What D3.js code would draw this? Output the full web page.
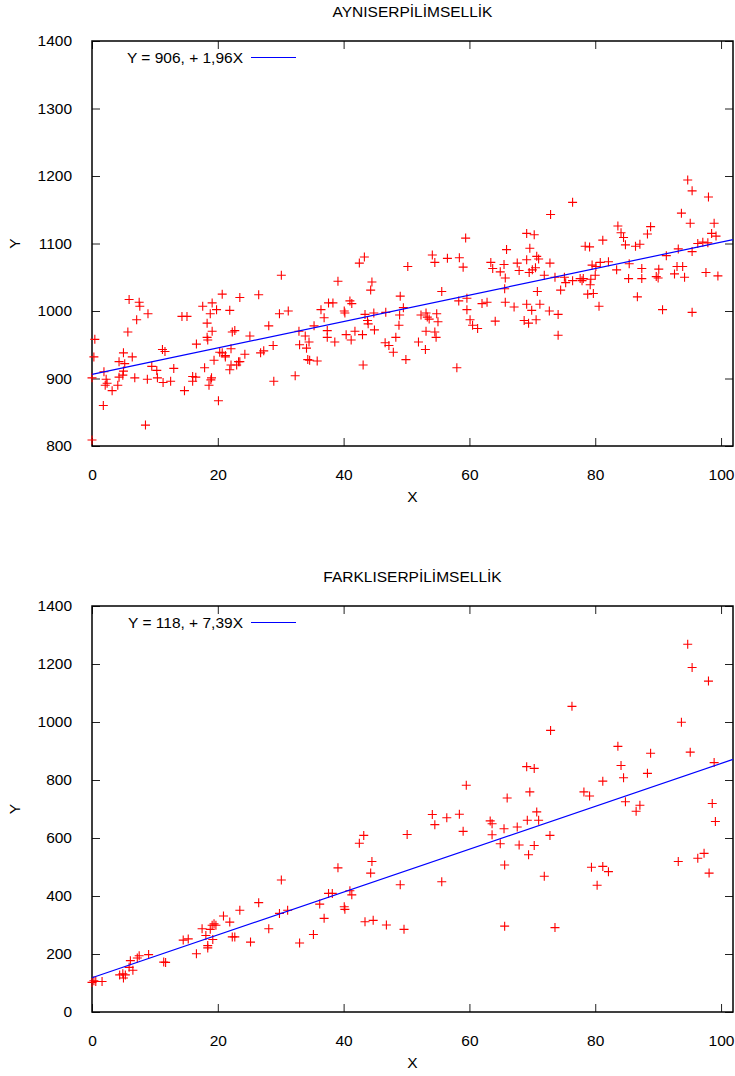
<!DOCTYPE html>
<html>
<head>
<meta charset="utf-8">
<script src="https://cdn.jsdelivr.net/npm/d3@7"></script>
<style>
  body { margin: 0; background: #fff; }
  svg text { font-family: "Liberation Sans", Arial, sans-serif; fill: #000; }
</style>
</head>
<body>
<svg id="chart" width="735" height="1076"></svg>
<script>
// panel titles and legend labels
const titles = ["AYNISERPİLİMSELLİK", "FARKLISERPİLİMSELLİK"];
const legendLabels = ["Y = 906, + 1,96X", "Y = 118, + 7,39X"];
const intercepts = [906, 118];
const slopes = [1.96, 7.39];

const xTicks = [0, 20, 40, 60, 80, 100];
const yTicksTop = [800, 900, 1000, 1100, 1200, 1300, 1400];
const yTicksBottom = [0, 200, 400, 600, 800, 1000, 1200, 1400];

// top panel: same variance
const sameX = [0,0.45,0.3,0,1.8,1.9,2.25,2.1,2.4,3.2,4.1,4.3,4.3,5.0,5.2,5.0,4.9,5.9,7.5,7.6,7.1,5.7,6.4,6.8,8.5,8.9,8.8,9.5,10.3,10.4,11.2,11.6,11.3,12.5,13.0,14.3,15.1,14.7,16.6,16.0,16.0,16.5,17.9,17.6,19.1,18.8,19.8,18.3,18.4,18.3,19.1,19.4,19.0,18.9,18.6,20.1,20.7,21.9,23.5,22.3,22.7,22.1,20.3,20.7,21.2,21.2,22.1,21.9,23.0,23.3,23.5,24.3,25.1,
  26.5,26.8,27.3,28.1,28.9,28.8,30.1,29.8,31.2,32.3,32.9,33.0,33.9,34.5,34.1,34.3,34.6,35.3,35.8,36.4,36.9,37.6,38.3,37.4,37.4,38.6,39.1,40.1,40.2,41.0,41.3,40.4,41.2,41.8,43.0,42.5,43.3,43.1,44.5,44.3,43.4,43.8,43.9,44.8,44.9,46.7,46.6,47.2,47.9,48.3,49.0,48.9,49.5,48.8,49.9,50.2,
  54.1,54.5,56.5,58.4,59.0,59.4,55.6,52.3,53.1,53.3,53.6,54.8,55.0,53.1,54.5,54.7,51.9,53.0,58.0,58.3,59.6,59.6,60.1,60.5,61.3,62.0,62.8,64.1,63.4,63.7,64.9,65.5,65.7,65.6,65.7,67.1,65.9,67.6,67.9,69.1,70.3,69.6,69.1,69.5,70.0,70.7,71.0,70.5,71.9,72.8,70.8,69.1,69.9,71.2,72.7,68.7,69.4,70.6,74.1,74.1,72.9,73.6,74.5,75.3,75.1,
  76.4,76.4,77.6,78.1,77.9,79.3,79.2,78.8,79.7,80.6,80.0,79.5,80.1,80.8,82.1,78.4,79.1,81.2,83.4,83.6,84.1,84.5,84.8,85.4,85.3,86.7,86.4,87.1,87.4,87.4,88.3,88.8,89.7,90.1,90.0,90.7,91.3,92.6,93.0,93.9,94.2,93.2,93.7,94.7,95.4,95.1,95.4,95.4,96.3,97.1,97.9,97.6,98.0,98.9,98.5,99.2,99.5];
const sameY = [809,958,932,901,860,910,899,890,893,882,890,902,925,938,922,911,905,1017,1013,1007,987,969,932,901,831,996,899,918,912,901,943,940,894,896,915,992,992,882,951,903,896,902,916,1007,1012,996,1002,982,957,961,970,927,901,898,890,867,1025,1001,1020,969,971,944,939,938,934,932,920,913,920,925,925,936,963,
  1024,938,941,978,896,949,1053,996,1000,904,970,950,963,954,945,928,927,978,926,1002,990,1012,1012,971,961,954,1044,1000,997,1015,1011,965,957,970,965,1071,1080,920,1043,1031,995,986,981,997,972,998,953,949,939,961,1022,994,1005,979,928,1066,
  1083,1072,1078,1079,1065,1108,1029,994,997,991,988,996,984,970,969,961,954,943,916,1015,1019,1002,987,979,974,1011,1013,985,1072,1063,1058,1069,1049,1033,1013,1006,1091,1071,1060,1115,1113,1093,1076,1057,1061,1081,1077,1064,1053,1071,1029,1010,1001,1010,1000,986,982,987,995,964,1143,1050,1031,1042,1050,
  1161,1045,1048,1048,1045,1047,1039,1025,1026,1007,1053,1068,1066,1072,1073,1096,1095,1105,1061,1126,1116,1109,1098,1070,1048,1021,1096,1099,1063,1048,1114,1125,1051,1062,1049,1002,1082,1055,1066,1066,1050,1092,1145,1194,1178,1130,998,1088,1100,1102,1101,1057,1169,1130,1115,1111,1052];

// bottom panel: different variance
const diffX = [0,0.3,0.6,1.6,4.4,4.9,5.0,5.3,5.9,6.1,6.5,7.2,7.5,9.0,11.4,11.7,14.5,15.3,16.6,17.5,18.1,18.4,18.4,18.8,19.1,19.4,19.7,19.2,20.9,21.9,22.3,22.7,23.5,25.2,
  26.5,28.1,29.8,31.1,30.1,33.0,35.2,36.2,36.9,37.6,38.2,39.1,40.1,40.2,41.0,41.3,42.5,43.2,43.4,44.7,44.3,44.5,46.8,49.0,49.6,50.1,
  54.1,54.5,55.6,56.4,58.4,59.0,59.5,63.3,63.6,63.6,64.9,65.5,65.6,65.6,66.0,67.6,67.9,69.1,70.3,69.6,70.7,71.0,69.2,69.4,70.3,72.8,71.9,73.6,72.9,76.3,
  78.2,79.1,81.2,83.6,84.1,84.5,84.8,86.5,87.1,88.3,88.8,79.4,80.3,81.2,82.1,93.2,93.7,94.7,95.4,95.1,96.3,97.3,98.0,98.1,98.6,99.1,98.9];
const diffY = [102,108,105,105,128,132,117,128,154,177,144,186,194,198,172,171,248,252,201,287,264,229,221,285,299,304,299,250,331,310,259,259,351,241,
  377,287,340,351,455,238,267,372,323,409,409,497,363,354,418,404,582,609,311,316,479,519,300,439,285,612,
  681,646,449,670,682,623,782,659,649,611,580,632,507,296,738,638,576,846,840,759,690,661,661,542,574,609,468,291,971,1054,
  759,745,796,916,850,808,725,692,713,823,892,499,437,502,484,519,999,1268,1188,896,530,547,1141,479,719,657,860];

const xMax = 101.9;
const fontSize = 15.5;

const svg = d3.select("#chart");

const panels = [
  { top: 41, bottom: 446, yDomain: [800, 1400], yTicks: yTicksTop, xs: sameX, ys: sameY },
  { top: 606, bottom: 1012, yDomain: [0, 1400], yTicks: yTicksBottom, xs: diffX, ys: diffY }
];

const left = 92, right = 733;

panels.forEach((p, i) => {
  const g = svg.append("g");

  const x = d3.scaleLinear().domain([0, xMax]).range([left, right]);
  const y = d3.scaleLinear().domain(p.yDomain).range([p.bottom, p.top]);

  // title
  g.append("text")
    .attr("x", (left + right) / 2)
    .attr("y", p.top - 24)
    .attr("text-anchor", "middle")
    .style("font-size", fontSize + "px")
    .text(titles[i]);

  // inward ticks on all four sides (gnuplot style)
  const tickLen = 8;
  const xAxis = g.append("g")
    .attr("transform", `translate(0,${p.bottom})`)
    .call(d3.axisBottom(x).tickValues(xTicks).tickSize(-tickLen).tickPadding(tickLen + 15).tickFormat(d3.format("d")));
  const xAxisTop = g.append("g")
    .attr("transform", `translate(0,${p.top})`)
    .call(d3.axisTop(x).tickValues(xTicks).tickSize(-tickLen).tickFormat(""));
  const yAxis = g.append("g")
    .attr("transform", `translate(${left},0)`)
    .call(d3.axisLeft(y).tickValues(p.yTicks).tickSize(-tickLen).tickPadding(tickLen + 12).tickFormat(d3.format("d")));
  const yAxisRight = g.append("g")
    .attr("transform", `translate(${right},0)`)
    .call(d3.axisRight(y).tickValues(p.yTicks).tickSize(-tickLen).tickFormat(""));

  for (let a of [xAxis, xAxisTop, yAxis, yAxisRight]) {
    a.select(".domain").remove();
    a.selectAll(".tick line").attr("stroke", "#222").attr("stroke-width", 1);
    a.selectAll(".tick text")
      .style("font-family", '"Liberation Sans", Arial, sans-serif')
      .style("font-size", fontSize + "px")
      .attr("fill", "#000");
  }

  // frame
  g.append("rect")
    .attr("x", left)
    .attr("y", p.top)
    .attr("width", right - left)
    .attr("height", p.bottom - p.top)
    .attr("fill", "none")
    .attr("stroke", "#000")
    .attr("stroke-width", 1.5);

  // axis labels
  g.append("text")
    .attr("x", (left + right) / 2)
    .attr("y", p.bottom + 56)
    .attr("text-anchor", "middle")
    .style("font-size", fontSize + "px")
    .text("X");

  g.append("text")
    .attr("transform", `translate(20,${(p.top + p.bottom) / 2}) rotate(-90)`)
    .attr("text-anchor", "middle")
    .style("font-size", fontSize + "px")
    .text("Y");

  // scatter points as "+"
  const pts = p.xs.map((v, k) => [v, p.ys[k]]);
  g.append("g")
    .selectAll("path")
    .data(pts)
    .join("path")
    .attr("d", d => {
      const cx = x(d[0]), cy = y(d[1]);
      return `M${cx - 4.5},${cy}H${cx + 4.5}M${cx},${cy - 4.5}V${cy + 4.5}`;
    })
    .attr("stroke", "#ff0000")
    .attr("stroke-width", 1.1)
    .attr("fill", "none");

  // regression line
  const fit = d3.line().x(d => x(d)).y(d => y(intercepts[i] + slopes[i] * d));
  g.append("path")
    .datum([0, xMax])
    .attr("d", fit)
    .attr("stroke", "#0000ff")
    .attr("stroke-width", 1.2)
    .attr("fill", "none");

  // legend
  const ly = p.top + 16;
  g.append("text")
    .attr("x", 243)
    .attr("y", ly + 5.5)
    .attr("text-anchor", "end")
    .style("font-size", fontSize + "px")
    .text(legendLabels[i]);
  g.append("line")
    .attr("x1", 251).attr("x2", 296)
    .attr("y1", ly + 0.5).attr("y2", ly + 0.5)
    .attr("stroke", "#0000ff")
    .attr("stroke-width", 1.2);
});
</script>
</body>
</html>
